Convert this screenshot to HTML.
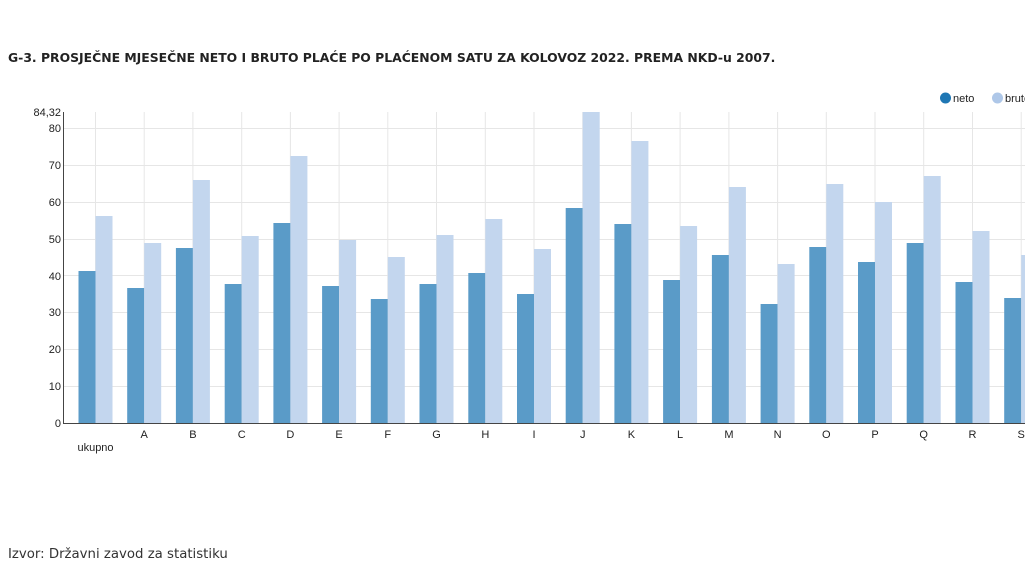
<!DOCTYPE html>
<html><head><meta charset="utf-8"><style>
body{margin:0;background:#fff;width:1025px;height:563px;overflow:hidden;font-family:"Liberation Sans",sans-serif}
</style></head><body>
<svg width="1025" height="563" xmlns="http://www.w3.org/2000/svg" style="position:absolute;left:0;top:0">
<text x="8" y="62" font-family="'DejaVu Sans',sans-serif" font-weight="bold" font-size="12.4" fill="#222">G-3. PROSJEČNE MJESEČNE NETO I BRUTO PLAĆE PO PLAĆENOM SATU ZA KOLOVOZ 2022. PREMA NKD-u 2007.</text>
<circle cx="945.5" cy="98" r="5.5" fill="#1f77b4"/><text x="953" y="102" font-size="11" fill="#222">neto</text>
<circle cx="997.5" cy="98" r="5.5" fill="#aec7e8"/><text x="1005" y="102" font-size="11" fill="#222">bruto</text>
<g stroke="#e6e6e6" stroke-width="1">
<line x1="64" x2="1025" y1="128.5" y2="128.5"/><line x1="64" x2="1025" y1="165.5" y2="165.5"/><line x1="64" x2="1025" y1="202.5" y2="202.5"/><line x1="64" x2="1025" y1="239.5" y2="239.5"/><line x1="64" x2="1025" y1="275.5" y2="275.5"/><line x1="64" x2="1025" y1="312.5" y2="312.5"/><line x1="64" x2="1025" y1="349.5" y2="349.5"/><line x1="64" x2="1025" y1="386.5" y2="386.5"/>
<line x1="95.5" x2="95.5" y1="112" y2="423"/><line x1="144.2" x2="144.2" y1="112" y2="423"/><line x1="192.9" x2="192.9" y1="112" y2="423"/><line x1="241.7" x2="241.7" y1="112" y2="423"/><line x1="290.4" x2="290.4" y1="112" y2="423"/><line x1="339.1" x2="339.1" y1="112" y2="423"/><line x1="387.8" x2="387.8" y1="112" y2="423"/><line x1="436.5" x2="436.5" y1="112" y2="423"/><line x1="485.3" x2="485.3" y1="112" y2="423"/><line x1="534" x2="534" y1="112" y2="423"/><line x1="582.7" x2="582.7" y1="112" y2="423"/><line x1="631.4" x2="631.4" y1="112" y2="423"/><line x1="680.1" x2="680.1" y1="112" y2="423"/><line x1="728.9" x2="728.9" y1="112" y2="423"/><line x1="777.6" x2="777.6" y1="112" y2="423"/><line x1="826.3" x2="826.3" y1="112" y2="423"/><line x1="875" x2="875" y1="112" y2="423"/><line x1="923.7" x2="923.7" y1="112" y2="423"/><line x1="972.5" x2="972.5" y1="112" y2="423"/><line x1="1021.2" x2="1021.2" y1="112" y2="423"/>
</g>
<g fill="#5a9bc8">
<rect x="78.5" y="271" width="17" height="152"/><rect x="127.2" y="288" width="17" height="135"/><rect x="175.9" y="248" width="17" height="175"/><rect x="224.7" y="284" width="17" height="139"/><rect x="273.4" y="223" width="17" height="200"/><rect x="322.1" y="286" width="17" height="137"/><rect x="370.8" y="299" width="17" height="124"/><rect x="419.5" y="284" width="17" height="139"/><rect x="468.3" y="273" width="17" height="150"/><rect x="517" y="294" width="17" height="129"/><rect x="565.7" y="208" width="17" height="215"/><rect x="614.4" y="224" width="17" height="199"/><rect x="663.1" y="280" width="17" height="143"/><rect x="711.9" y="255" width="17" height="168"/><rect x="760.6" y="304" width="17" height="119"/><rect x="809.3" y="247" width="17" height="176"/><rect x="858" y="262" width="17" height="161"/><rect x="906.7" y="243" width="17" height="180"/><rect x="955.5" y="282" width="17" height="141"/><rect x="1004.2" y="298" width="17" height="125"/>
</g>
<g fill="#c3d6ee">
<rect x="95.5" y="216" width="17" height="207"/><rect x="144.2" y="243" width="17" height="180"/><rect x="192.9" y="180" width="17" height="243"/><rect x="241.7" y="236" width="17" height="187"/><rect x="290.4" y="156" width="17" height="267"/><rect x="339.1" y="240" width="17" height="183"/><rect x="387.8" y="257" width="17" height="166"/><rect x="436.5" y="235" width="17" height="188"/><rect x="485.3" y="219" width="17" height="204"/><rect x="534" y="249" width="17" height="174"/><rect x="582.7" y="112" width="17" height="311"/><rect x="631.4" y="141" width="17" height="282"/><rect x="680.1" y="226" width="17" height="197"/><rect x="728.9" y="187" width="17" height="236"/><rect x="777.6" y="264" width="17" height="159"/><rect x="826.3" y="184" width="17" height="239"/><rect x="875" y="202" width="17" height="221"/><rect x="923.7" y="176" width="17" height="247"/><rect x="972.5" y="231" width="17" height="192"/><rect x="1021.2" y="255" width="17" height="168"/>
</g>
<line x1="63.5" x2="63.5" y1="112" y2="423.5" stroke="#444"/>
<line x1="63" x2="1025" y1="423.5" y2="423.5" stroke="#444"/>
<g font-size="11" fill="#222" text-anchor="end">
<text x="61" y="116">84,32</text><text x="61" y="132">80</text><text x="61" y="169">70</text><text x="61" y="206">60</text><text x="61" y="243">50</text><text x="61" y="280">40</text><text x="61" y="316">30</text><text x="61" y="353">20</text><text x="61" y="390">10</text><text x="61" y="427">0</text>
</g>
<g font-size="11" fill="#222" text-anchor="middle">
<text x="95.5" y="451">ukupno</text><text x="144.2" y="438">A</text><text x="192.9" y="438">B</text><text x="241.7" y="438">C</text><text x="290.4" y="438">D</text><text x="339.1" y="438">E</text><text x="387.8" y="438">F</text><text x="436.5" y="438">G</text><text x="485.3" y="438">H</text><text x="534" y="438">I</text><text x="582.7" y="438">J</text><text x="631.4" y="438">K</text><text x="680.1" y="438">L</text><text x="728.9" y="438">M</text><text x="777.6" y="438">N</text><text x="826.3" y="438">O</text><text x="875" y="438">P</text><text x="923.7" y="438">Q</text><text x="972.5" y="438">R</text><text x="1021.2" y="438">S</text>
</g>
<text x="8" y="558" font-family="'DejaVu Sans',sans-serif" font-size="13.3" fill="#333">Izvor: Državni zavod za statistiku</text>
</svg>
</body></html>
